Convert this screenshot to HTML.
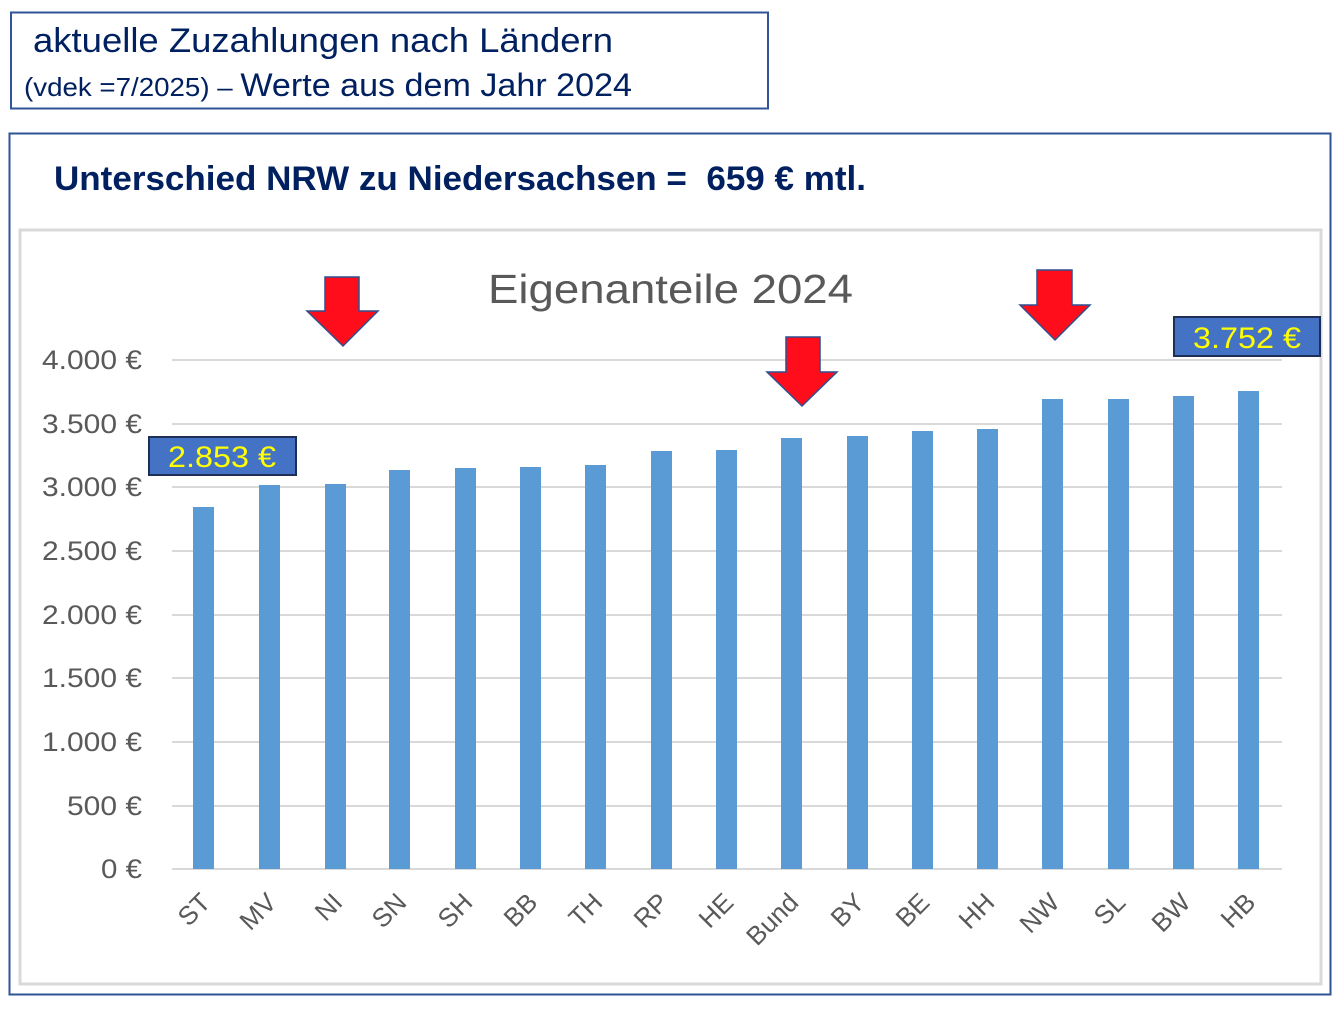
<!DOCTYPE html>
<html><head><meta charset="utf-8"><style>
html,body{margin:0;padding:0;background:#fff;}
svg{display:block;}
text{font-family:"Liberation Sans",sans-serif;}
</style></head><body>
<svg width="1344" height="1011" viewBox="0 0 1344 1011" xmlns="http://www.w3.org/2000/svg">
<rect x="0" y="0" width="1344" height="1011" fill="#fff"/>
<rect x="11" y="12.5" width="757" height="96" fill="none" stroke="#2f5597" stroke-width="2"/>
<text x="33" y="52" font-size="34" fill="#002060" textLength="580" lengthAdjust="spacingAndGlyphs">aktuelle Zuzahlungen nach Ländern</text>
<text x="24" y="96" fill="#002060" textLength="608" lengthAdjust="spacingAndGlyphs"><tspan font-size="26">(vdek =7/2025) – </tspan><tspan font-size="32">Werte aus dem Jahr 2024</tspan></text>
<rect x="9.5" y="133.5" width="1321" height="861" fill="none" stroke="#2f5597" stroke-width="2"/>
<text x="54" y="190" font-size="34" font-weight="bold" fill="#002060" textLength="812" lengthAdjust="spacingAndGlyphs">Unterschied NRW zu Niedersachsen = &#160;659 € mtl.</text>
<rect x="20" y="230" width="1301" height="754" fill="none" stroke="#d9d9d9" stroke-width="3"/>
<text x="488" y="303" font-size="41" fill="#595959" textLength="365" lengthAdjust="spacingAndGlyphs">Eigenanteile 2024</text>
<g stroke="#d9d9d9" stroke-width="2">
<line x1="172" x2="1282" y1="360" y2="360"/><line x1="172" x2="1282" y1="424" y2="424"/>
<line x1="172" x2="1282" y1="487" y2="487"/><line x1="172" x2="1282" y1="551" y2="551"/>
<line x1="172" x2="1282" y1="615" y2="615"/><line x1="172" x2="1282" y1="678" y2="678"/>
<line x1="172" x2="1282" y1="742" y2="742"/><line x1="172" x2="1282" y1="806" y2="806"/>
<line x1="172" x2="1282" y1="869" y2="869"/>
</g>
<g font-size="27" fill="#595959" text-anchor="end">
<text x="142" y="369" textLength="100" lengthAdjust="spacingAndGlyphs">4.000 €</text><text x="142" y="433" textLength="100" lengthAdjust="spacingAndGlyphs">3.500 €</text>
<text x="142" y="496" textLength="100" lengthAdjust="spacingAndGlyphs">3.000 €</text><text x="142" y="560" textLength="100" lengthAdjust="spacingAndGlyphs">2.500 €</text>
<text x="142" y="624" textLength="100" lengthAdjust="spacingAndGlyphs">2.000 €</text><text x="142" y="687" textLength="100" lengthAdjust="spacingAndGlyphs">1.500 €</text>
<text x="142" y="751" textLength="100" lengthAdjust="spacingAndGlyphs">1.000 €</text><text x="142" y="815" textLength="75" lengthAdjust="spacingAndGlyphs">500 €</text>
<text x="142" y="878" textLength="41" lengthAdjust="spacingAndGlyphs">0 €</text>
</g>
<g fill="#5b9bd5">
<rect x="193" y="507" width="21" height="362"/>
<rect x="259" y="485" width="21" height="384"/>
<rect x="325" y="484" width="21" height="385"/>
<rect x="389" y="470" width="21" height="399"/>
<rect x="455" y="468" width="21" height="401"/>
<rect x="520" y="467" width="21" height="402"/>
<rect x="585" y="465" width="21" height="404"/>
<rect x="651" y="451" width="21" height="418"/>
<rect x="716" y="450" width="21" height="419"/>
<rect x="781" y="438" width="21" height="431"/>
<rect x="847" y="436" width="21" height="433"/>
<rect x="912" y="431" width="21" height="438"/>
<rect x="977" y="429" width="21" height="440"/>
<rect x="1042" y="399" width="21" height="470"/>
<rect x="1108" y="399" width="21" height="470"/>
<rect x="1173" y="396" width="21" height="473"/>
<rect x="1238" y="391" width="21" height="478"/>
</g>
<g font-size="26" fill="#595959" text-anchor="end">
<text transform="translate(212,904) rotate(-45)">ST</text>
<text transform="translate(278,904) rotate(-45)">MV</text>
<text transform="translate(344,904) rotate(-45)">NI</text>
<text transform="translate(408,904) rotate(-45)">SN</text>
<text transform="translate(474,904) rotate(-45)">SH</text>
<text transform="translate(539,904) rotate(-45)">BB</text>
<text transform="translate(604,904) rotate(-45)">TH</text>
<text transform="translate(670,904) rotate(-45)">RP</text>
<text transform="translate(735,904) rotate(-45)">HE</text>
<text transform="translate(800,904) rotate(-45)">Bund</text>
<text transform="translate(866,904) rotate(-45)">BY</text>
<text transform="translate(931,904) rotate(-45)">BE</text>
<text transform="translate(996,904) rotate(-45)">HH</text>
<text transform="translate(1061,904) rotate(-45)">NW</text>
<text transform="translate(1127,904) rotate(-45)">SL</text>
<text transform="translate(1192,904) rotate(-45)">BW</text>
<text transform="translate(1257,904) rotate(-45)">HB</text>
</g>
<g fill="#ff0d1a" stroke="#2f4f8f" stroke-width="1.5">
<polygon points="325,277 359,277 359,311 378,311 343,346 307,311 325,311"/>
<polygon points="786,337 820,337 820,372 837,372 802,406 767,372 786,372"/>
<polygon points="1037,270 1072,270 1072,305 1090,305 1055,340 1020,305 1037,305"/>
</g>
<rect x="149" y="437" width="147" height="38" fill="#4472c4" stroke="#1f2f55" stroke-width="2"/>
<text x="222" y="467" font-size="30" fill="#ffff00" text-anchor="middle" textLength="108" lengthAdjust="spacingAndGlyphs">2.853 €</text>
<rect x="1174" y="317" width="146" height="39" fill="#4472c4" stroke="#1f2f55" stroke-width="2"/>
<text x="1247" y="348" font-size="30" fill="#ffff00" text-anchor="middle" textLength="108" lengthAdjust="spacingAndGlyphs">3.752 €</text>
</svg>
</body></html>
